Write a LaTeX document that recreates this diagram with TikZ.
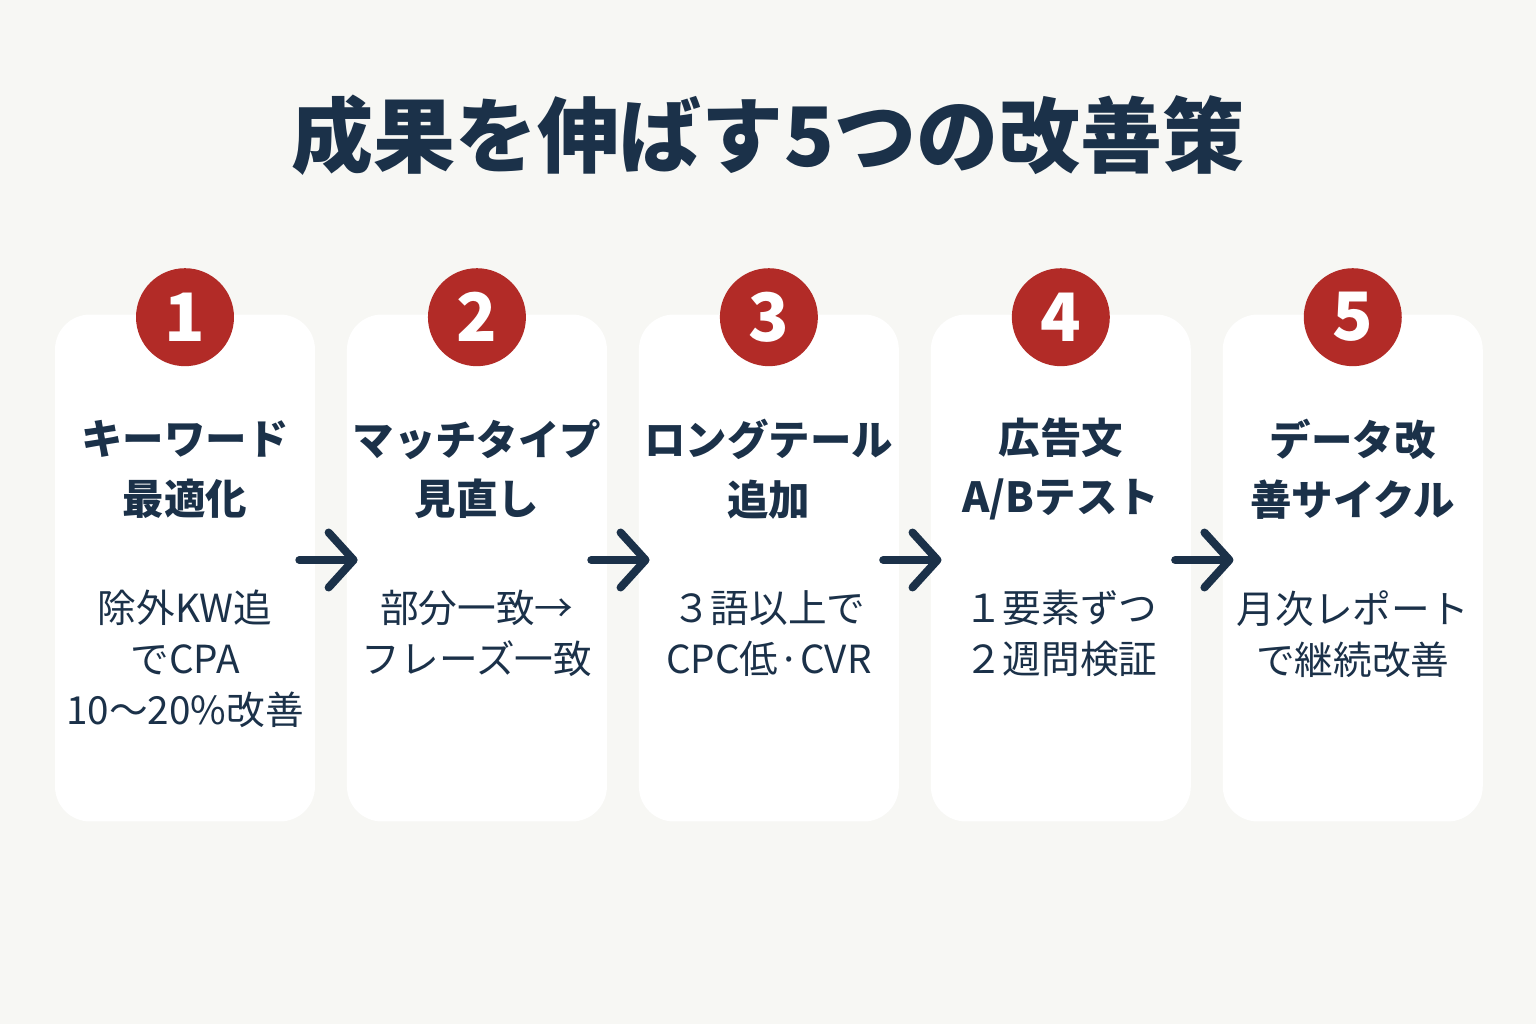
\documentclass[tikz,border=0pt]{standalone}
\usepackage{fontspec}
\setmainfont{Noto Sans CJK JP}
\usetikzlibrary{positioning,arrows.meta}
\definecolor{navy}{HTML}{1B3149}
\definecolor{badgered}{HTML}{B22B27}
\definecolor{paper}{HTML}{F7F7F4}

\begin{document}
\begin{tikzpicture}[x=0.02cm, y=-0.02cm, node distance=5.84cm,
    title/.style={text=navy, font=\fontsize{46.7}{50}\selectfont\bfseries},
    card/.style={rectangle, fill=white, rounded corners=0.7cm, minimum width=5.2cm, minimum height=10.14cm, inner sep=0pt},
    badge/.style={circle, fill=badgered, minimum size=1.96cm, inner sep=0pt, text=white, font=\fontsize{38}{38}\selectfont\bfseries},
    heading/.style={text=navy, align=center, font=\fontsize{23.6}{34}\selectfont\bfseries},
    note/.style={text=navy, align=center, anchor=north, font=\fontsize{22}{29}\selectfont},
    arrow/.style={line width=0.16cm, navy, line cap=round, -{Straight Barb[length=0.5cm, width=1.1cm, round]}, shorten <=-0.32cm, shorten >=-0.22cm}]

    \fill [paper] (0,0) rectangle (1536,1024);
    \useasboundingbox (0,0) rectangle (1536,1024);

    \node [title] (title) at (768,135) {成果を伸ばす5つの改善策};

    % cards
    \node [card] (card1) at (185,568) {};
    \node [card, right of=card1] (card2) {};
    \node [card, right of=card2] (card3) {};
    \node [card, right of=card3] (card4) {};
    \node [card, right of=card4] (card5) {};

    \node [badge] (num1) at ([yshift=-0.06cm]card1.north) {1};
    \node [badge] (num2) at ([yshift=-0.06cm]card2.north) {2};
    \node [badge] (num3) at ([yshift=-0.06cm]card3.north) {3};
    \node [badge] (num4) at ([yshift=-0.06cm]card4.north) {4};
    \node [badge] (num5) at ([yshift=-0.06cm]card5.north) {5};

    \node [heading] (head1) at ([yshift=-3.1cm]card1.north) {キーワード\\最適化};
    \node [heading] (head2) at ([yshift=-3.1cm]card2.north) {マッチタイプ\\見直し};
    \node [heading] (head3) at ([yshift=-3.1cm]card3.north) {ロングテール\\追加};
    \node [heading] (head4) at ([yshift=-3.1cm]card4.north) {広告文\\A/Bテスト};
    \node [heading] (head5) at ([yshift=-3.1cm]card5.north) {データ改\\善サイクル};

    \node [note] (note1) at ([yshift=-5.4cm]card1.north) {除外KW追\\でCPA\\10～20\%改善};
    \node [note] (note2) at ([yshift=-5.4cm]card2.north) {部分一致→\\フレーズ一致};
    \node [note] (note3) at ([yshift=-5.4cm]card3.north) {３語以上で\\CPC低·CVR};
    \node [note] (note4) at ([yshift=-5.4cm]card4.north) {１要素ずつ\\２週問検証};
    \node [note] (note5) at ([yshift=-5.4cm]card5.north) {月次レポート\\で継続改善};

    \draw [arrow] ([yshift=0.16cm]card1.east) -- ([yshift=0.16cm]card2.west);
    \draw [arrow] ([yshift=0.16cm]card2.east) -- ([yshift=0.16cm]card3.west);
    \draw [arrow] ([yshift=0.16cm]card3.east) -- ([yshift=0.16cm]card4.west);
    \draw [arrow] ([yshift=0.16cm]card4.east) -- ([yshift=0.16cm]card5.west);
\end{tikzpicture}
\end{document}
